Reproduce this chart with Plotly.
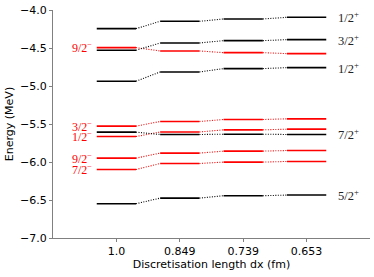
import plotly.graph_objects as go

categories = ["1.0", "0.849", "0.739", "0.653"]

# Positive-parity (black) levels, MeV
black_labels = ["1/2<sup>+</sup>", "3/2<sup>+</sup>", "1/2<sup>+</sup>", "7/2<sup>+</sup>", "5/2<sup>+</sup>"]
black_levels = [
    [-4.245, -4.149, -4.118, -4.096],
    [-4.530, -4.434, -4.403, -4.390],
    [-4.937, -4.815, -4.771, -4.758],
    [-5.607, -5.638, -5.634, -5.638],
    [-6.549, -6.475, -6.444, -6.435],
]

# Negative-parity (red) levels, MeV
red_labels = ["9/2<sup>−</sup>", "3/2<sup>−</sup>", "1/2<sup>−</sup>", "9/2<sup>−</sup>", "7/2<sup>−</sup>"]
red_levels = [
    [-4.495, -4.539, -4.561, -4.574],
    [-5.528, -5.467, -5.441, -5.432],
    [-5.665, -5.605, -5.577, -5.568],
    [-5.949, -5.883, -5.857, -5.849],
    [-6.098, -6.020, -6.001, -5.993],
]

y_ticks = [-7.0, -6.5, -6.0, -5.5, -5.0, -4.5, -4.0]

HALF = 0.31
fig = go.Figure()


def add_series(values, color):
    xs, ys, dx, dy = [], [], [], []
    for i, v in enumerate(values):
        xs += [i - HALF, i + HALF, None]
        ys += [v, v, None]
        if i + 1 < len(values):
            dx += [i + HALF, i + 1 - HALF, None]
            dy += [v, values[i + 1], None]
    fig.add_trace(go.Scatter(x=dx, y=dy, mode="lines", showlegend=False, hoverinfo="skip",
                             line=dict(color=color, width=1.1, dash="1px,1.5px")))
    fig.add_trace(go.Scatter(x=xs, y=ys, mode="lines", showlegend=False,
                             line=dict(color=color, width=1.6)))


for vals in red_levels:
    add_series(vals, "#ff0000")
for vals in black_levels:
    add_series(vals, "#000000")

for lab, vals in zip(black_labels, black_levels):
    fig.add_annotation(x=3.47, y=vals[-1], text=lab, showarrow=False, xanchor="left", yanchor="middle",
                       font=dict(family="Liberation Serif", size=12.5, color="#222222"))
for lab, vals in zip(red_labels, red_levels):
    fig.add_annotation(x=-0.35, y=vals[0], text=lab, showarrow=False, xanchor="right", yanchor="middle",
                       font=dict(family="Liberation Serif", size=12, color="#ff0000"))

fig.update_layout(
    width=374, height=277,
    margin=dict(l=53, r=4, t=10, b=39, autoexpand=False),
    paper_bgcolor="white", plot_bgcolor="white",
    font=dict(family="DejaVu Sans", size=11, color="black"),
    xaxis=dict(range=[-1, 4], tickvals=[0, 1, 2, 3], ticktext=categories, automargin=False,
               showgrid=False, zeroline=False, showline=True, linecolor="#808080", linewidth=1,
               ticks="outside", ticklen=3, tickcolor="#808080",
               title=dict(text="Discretisation length dx (fm)", standoff=1, font=dict(size=11))),
    yaxis=dict(range=[-7.0, -4.0], tickvals=y_ticks, ticktext=[f"{t:.1f}".replace("-", "−") for t in y_ticks],
               automargin=False,
               showgrid=False, zeroline=False, showline=True, linecolor="#808080", linewidth=1,
               ticks="outside", ticklen=3, tickcolor="#808080",
               title=dict(text="Energy (MeV)", standoff=4, font=dict(size=11))),
)

fig.write_html("out.html", config={"displayModeBar": False},
               post_script="document.body.style.margin='0px';")
